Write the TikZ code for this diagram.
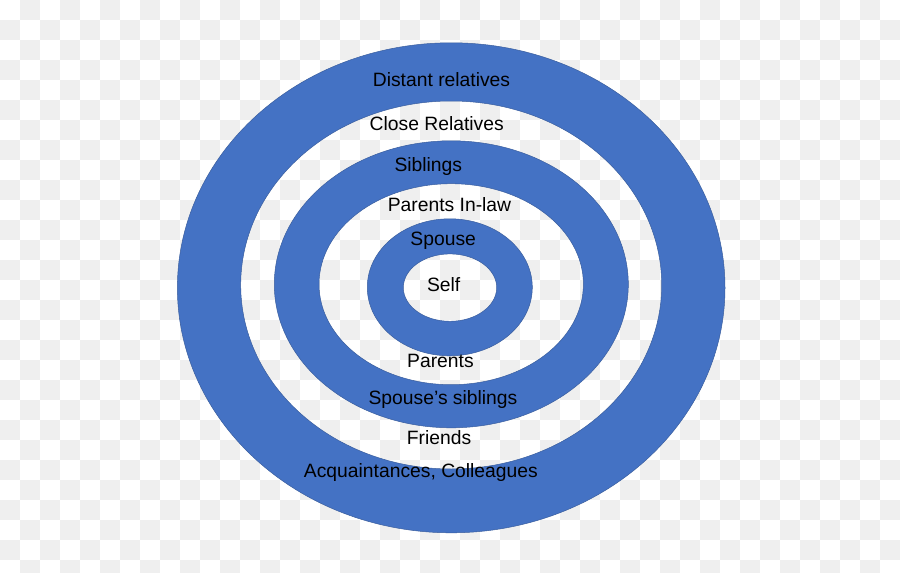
\documentclass[tikz,border=0pt]{standalone}
\usepackage{fontspec}
\setmainfont{Liberation Sans}
\definecolor{ringblue}{HTML}{4472C4}
\definecolor{ringedge}{HTML}{3A5E9E}
\definecolor{checkgray}{HTML}{EFEFEF}
\tikzset{
  lbl/.style={anchor=base, inner sep=0pt, text=black, font=\fontsize{19.3}{23}\selectfont},
  ring/.style={fill=ringblue, draw=ringedge, line width=0.5pt, even odd rule}
}
\begin{document}
\begin{tikzpicture}[x=1pt,y=-1pt]
\useasboundingbox (0,0) rectangle (900,573);
\begin{scope}
\clip (0,0) rectangle (900,573);
\fill[white] (0,0) rectangle (900,573);
\foreach \j in {0,...,28}{
  \foreach \i in {0,...,22}{
    \fill[checkgray] ({(2*\i+1-mod(\j,2))*20},{\j*20}) rectangle ++(20,20);
  }
}
\end{scope}
% outer ring
\path[ring] (451.2,287.8) ellipse [x radius=273.8pt, y radius=245pt]
            (451.2,285.0) ellipse [x radius=210.5pt, y radius=184pt];
% middle ring
\path[ring] (451.3,284.3) ellipse [x radius=177pt, y radius=143.5pt]
            (451.2,284.2) ellipse [x radius=132.2pt, y radius=100.5pt];
% inner ring
\path[ring] (449.8,287.3) ellipse [x radius=82.5pt, y radius=68.5pt]
            (450.0,287.6) ellipse [x radius=46.7pt, y radius=33.7pt];
% labels
\node[lbl] (distant) at (441.5,86) {Distant relatives};
\node[lbl] (close) at (436.7,130.5) {Close Relatives};
\node[lbl] (siblings) at (428.3,171.5) {Siblings};
\node[lbl] (inlaw) at (449.5,211) {Parents In-law};
\node[lbl] (spouse) at (443.2,245.5) {Spouse};
\node[lbl] (self) at (443.7,291) {Self};
\node[lbl] (parents) at (440.4,367) {Parents};
\node[lbl] (spsib) at (443,404.5) {Spouse’s siblings};
\node[lbl] (friends) at (439,444) {Friends};
\node[lbl] (acq) at (420.9,477.8) {Acquaintances, Colleagues};
\end{tikzpicture}
\end{document}
